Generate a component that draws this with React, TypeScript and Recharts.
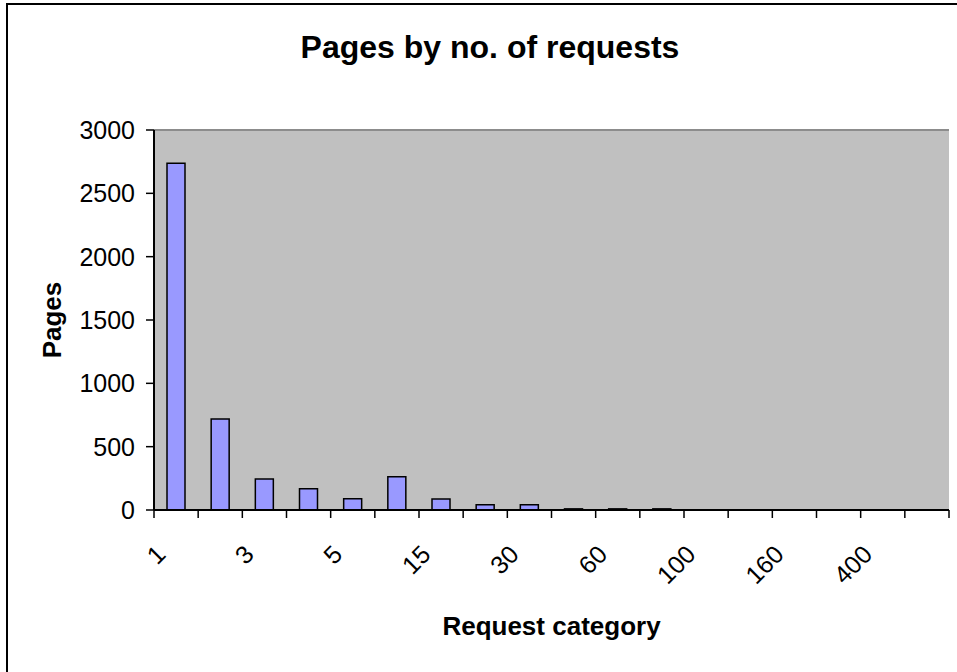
import React from 'react';
import {
    BarChart,
    Bar,
    XAxis,
    YAxis,
    CartesianGrid,
    ReferenceLine
} from 'recharts';

// request categories (only every other one is labelled on the axis)
const categories = ['1', '2', '3', '4', '5', '10', '15', '20', '30', '40', '60', '80', '100', '130', '160', '200', '400', '>400'];
const pages = [2737, 718, 244, 168, 89, 263, 87, 42, 42, 9, 9, 9, 0, 0, 0, 0, 0, 0];
const yTicks = [0, 500, 1000, 1500, 2000, 2500, 3000];

const data = categories.map((c, i) => ({ category: c, pages: pages[i] }));

const FONT = '"Liberation Sans", Arial, sans-serif';

// ticks sit on the category boundaries, labels every second category, rotated
const CategoryTick = (props: any) => {
    const { x, y, payload, index } = props;
    const half = payload && payload.offset ? payload.offset : 795 / categories.length / 2;
    const isLast = index === categories.length - 1;
    const lx = x - 9;
    const ly = y + 46;
    return (
        <g>
            <line x1={x - half} x2={x - half} y1={y} y2={y + 8} stroke="#000" strokeWidth={1.5} />
            {isLast && (
                <line x1={x + half} x2={x + half} y1={y} y2={y + 8} stroke="#000" strokeWidth={1.5} />
            )}
            {index % 2 === 0 && (
                <text
                    x={lx}
                    y={ly}
                    textAnchor="end"
                    transform={`rotate(-45, ${lx}, ${ly})`}
                    fontSize={25}
                    fontFamily={FONT}
                    fill="#000"
                >
                    {payload.value}
                </text>
            )}
        </g>
    );
};

export default function App() {
    return (
        <div style={{ position: 'absolute', left: 0, top: 0, width: 957, height: 672, overflow: 'hidden', background: '#fff' }}>
            {/* chart frame, runs off the right/bottom edge */}
            <div style={{ position: 'absolute', left: 6, top: 3, width: 1000, height: 720, border: '2px solid #000' }} />
            <div
                style={{
                    position: 'absolute',
                    left: 0,
                    top: 31,
                    width: 980,
                    textAlign: 'center',
                    fontFamily: FONT,
                    fontWeight: 'bold',
                    fontSize: 32,
                    lineHeight: '32px',
                    color: '#000'
                }}
            >
                Pages by no. of requests
            </div>
            <div style={{ position: 'absolute', left: 0, top: 0 }}>
                <BarChart
                    width={957}
                    height={672}
                    data={data}
                    margin={{ top: 130, right: 8, left: 0, bottom: 62 }}
                    barSize={18}
                >
                    <CartesianGrid fill="#C0C0C0" horizontal={false} vertical={false} />
                    <XAxis
                        dataKey="category"
                        interval={0}
                        height={100}
                        tick={<CategoryTick />}
                        tickLine={false}
                        tickSize={0}
                        tickMargin={0}
                        axisLine={{ stroke: '#000', strokeWidth: 2 }}
                        label={{
                            value: 'Request category',
                            position: 'bottom',
                            offset: 7,
                            style: { fontFamily: FONT, fontWeight: 'bold', fontSize: 26, fill: '#000' }
                        }}
                    />
                    <YAxis
                        width={154}
                        domain={[0, 3000]}
                        ticks={yTicks}
                        interval={0}
                        tickSize={8}
                        tickMargin={11}
                        tick={{ fontSize: 25, fontFamily: FONT, fill: '#000' }}
                        tickLine={{ stroke: '#000', strokeWidth: 1.5 }}
                        axisLine={{ stroke: '#000', strokeWidth: 2 }}
                        label={{
                            value: 'Pages',
                            angle: -90,
                            position: 'insideLeft',
                            offset: 52,
                            style: { textAnchor: 'middle', fontFamily: FONT, fontWeight: 'bold', fontSize: 26, fill: '#000' }
                        }}
                    />
                    <YAxis
                        yAxisId="frame"
                        orientation="right"
                        width={0}
                        domain={[0, 3000]}
                        tick={false}
                        tickLine={false}
                        axisLine={{ stroke: '#8c8c8c', strokeWidth: 2 }}
                    />
                    <ReferenceLine y={3000} stroke="#8c8c8c" strokeWidth={2} />
                    <Bar
                        dataKey="pages"
                        fill="#9999FF"
                        stroke="#000"
                        strokeWidth={1.5}
                        isAnimationActive={false}
                    />
                </BarChart>
            </div>
        </div>
    );
}
